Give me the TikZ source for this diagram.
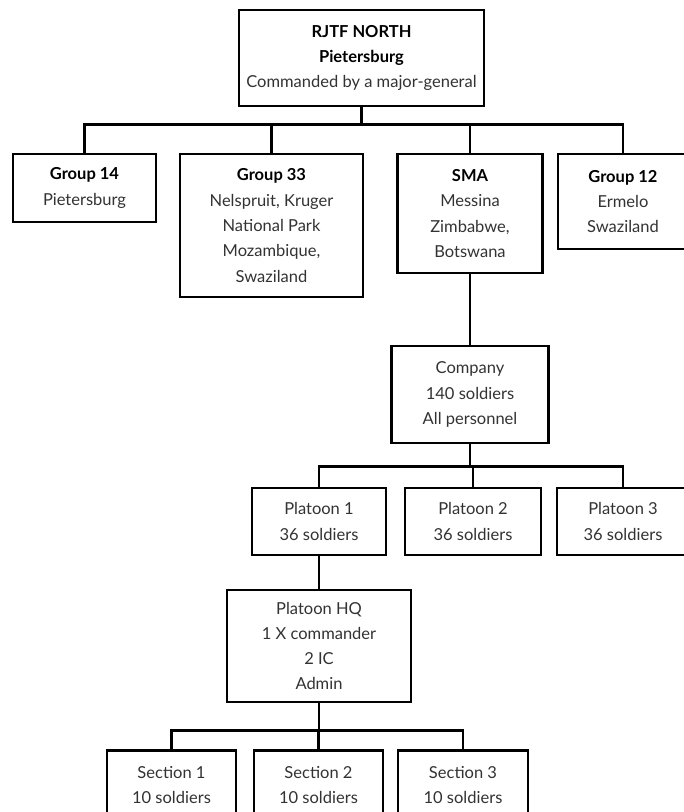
\documentclass[tikz,border=0pt]{standalone}
\usepackage{fontspec}
\setmainfont{Lato}
\definecolor{txt}{HTML}{333333}
\begin{document}
\begin{tikzpicture}[x=1pt,y=-1pt,
  box/.style={draw=black,line width=2.6pt,fill=white,align=center,inner sep=0pt,
    font=\fontsize{16.5}{25.3}\selectfont,text=txt},
  link/.style={line width=2.6pt,draw=black}]
\newcommand{\hdr}[1]{{\bfseries\color{black}#1}}
\useasboundingbox (0,0) rectangle (684,812);
\clip (0,0) rectangle (684,812);
% boxes: centers and sizes from pixel measurements
\node[box,minimum width=245pt,minimum height=96pt] (top) at (361.5,58) {\hdr{RJTF NORTH}\\\hdr{Pietersburg}\\Commanded by a major-general};
\node[box,minimum width=143pt,minimum height=68pt] (g14) at (84.5,188) {\hdr{Group 14}\\Pietersburg};
\node[box,minimum width=183pt,minimum height=143pt] (g33) at (271.5,225.5) {\hdr{Group 33}\\Nelspruit, Kruger\\National Park\\Mozambique,\\Swaziland};
\node[box,minimum width=145pt,minimum height=119pt] (sma) at (470,213.5) {\hdr{SMA}\\Messina\\Zimbabwe,\\Botswana};
\node[box,minimum width=130pt,minimum height=95pt] (g12) at (623,201.5) {\hdr{Group 12}\\Ermelo\\Swaziland};
\node[box,minimum width=157pt,minimum height=97pt] (comp) at (470,394.5) {Company\\140 soldiers\\All personnel};
\node[box,minimum width=134pt,minimum height=67pt] (p1) at (319,521.5) {Platoon 1\\36 soldiers};
\node[box,minimum width=136pt,minimum height=67pt] (p2) at (473,521.5) {Platoon 2\\36 soldiers};
\node[box,minimum width=132pt,minimum height=67pt] (p3) at (623,521.5) {Platoon 3\\36 soldiers};
\node[box,minimum width=184pt,minimum height=112pt] (hq) at (319,646) {Platoon HQ\\1 X commander\\2 IC\\Admin};
\node[box,minimum width=129pt,minimum height=70pt,anchor=north] (s1) at (171.5,749) {Section 1\\10 soldiers};
\node[box,minimum width=129pt,minimum height=70pt,anchor=north] (s2) at (318.5,749) {Section 2\\10 soldiers};
\node[box,minimum width=130pt,minimum height=70pt,anchor=north] (s3) at (463,749) {Section 3\\10 soldiers};
% connectors
\draw[link] (top.south) -- ++(0,17) -| (g14.north);
\draw[link] (top.south) -- ++(0,17) -| (g33.north);
\draw[link] (top.south) -- ++(0,17) -| (sma.north);
\draw[link] (top.south) -- ++(0,17) -| (g12.north);
\draw[link] (sma.south) -- (comp.north);
\draw[link] (comp.south) -- ++(0,22) -| (p1.north);
\draw[link] (comp.south) -- ++(0,22) -| (p2.north);
\draw[link] (comp.south) -- ++(0,22) -| (p3.north);
\draw[link] (p1.south) -- (hq.north);
\draw[link] (hq.south) -- ++(0,27) -| (s1.north);
\draw[link] (hq.south) -- ++(0,27) -| (s2.north);
\draw[link] (hq.south) -- ++(0,27) -| (s3.north);
\end{tikzpicture}
\end{document}
